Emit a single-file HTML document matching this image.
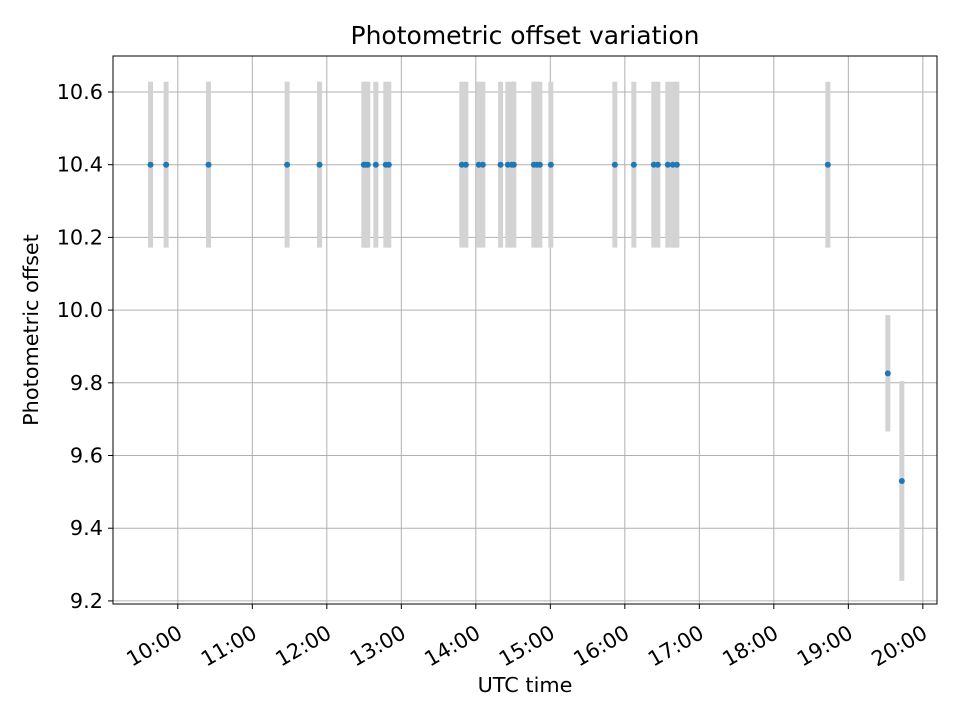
<!DOCTYPE html>
<html><head><meta charset="utf-8"><style>
body{margin:0;background:#fff}
svg text{font-family:"DejaVu Sans","Liberation Sans",sans-serif;fill:#000}
</style></head><body>
<svg id="chart" width="960" height="720" viewBox="0 0 960 720" xmlns="http://www.w3.org/2000/svg">
<rect width="960" height="720" fill="#fff"/>
<text x="525" y="44" style="font-size:25px" text-anchor="middle">Photometric offset variation</text>
<g id="grid"></g>
<g id="bars"></g>
<g id="points"></g>
<g id="axes"></g>
<text x="525" y="692" style="font-size:20.8px" text-anchor="middle">UTC time</text>
<text transform="translate(38,330) rotate(-90)" style="font-size:20.8px" text-anchor="middle">Photometric offset</text>
</svg>
<script>
const times = [9.634,9.843,10.412,11.467,11.902,12.497,12.523,12.550,12.658,12.792,12.832,13.812,13.866,14.040,14.094,14.332,14.430,14.483,14.510,14.779,14.819,14.859,15.007,15.866,16.121,16.389,16.443,16.577,16.644,16.698,18.725,19.530,19.718];
const offsets = [10.4,10.4,10.4,10.4,10.4,10.4,10.4,10.4,10.4,10.4,10.4,10.4,10.4,10.4,10.4,10.4,10.4,10.4,10.4,10.4,10.4,10.4,10.4,10.4,10.4,10.4,10.4,10.4,10.4,10.4,10.4,9.826,9.53];
const errors = [0.228,0.228,0.228,0.228,0.228,0.228,0.228,0.228,0.228,0.228,0.228,0.228,0.228,0.228,0.228,0.228,0.228,0.228,0.228,0.228,0.228,0.228,0.228,0.228,0.228,0.228,0.228,0.228,0.228,0.228,0.228,0.16,0.275];
const xTicks = [10,11,12,13,14,15,16,17,18,19,20];
const xTickLabels = ["10:00","11:00","12:00","13:00","14:00","15:00","16:00","17:00","18:00","19:00","20:00"];
const yTicks = [9.2,9.4,9.6,9.8,10.0,10.2,10.4,10.6];
const yTickLabels = ["9.2","9.4","9.6","9.8","10.0","10.2","10.4","10.6"];

const L=113,R=937,T=56,B=604;
const xMin=9.13,xMax=20.19,yMin=9.1915,yMax=10.699;
const sx=v=>L+(v-xMin)/(xMax-xMin)*(R-L);
const sy=v=>B-(v-yMin)/(yMax-yMin)*(B-T);
const NS="http://www.w3.org/2000/svg";
function mk(tag,attrs,parent){const e=document.createElementNS(NS,tag);for(const k in attrs)e.setAttribute(k,attrs[k]);parent.appendChild(e);return e;}
const grid=document.getElementById('grid'),bars=document.getElementById('bars'),pts=document.getElementById('points'),axes=document.getElementById('axes');

xTicks.forEach((t,i)=>{
  const x=sx(t);
  const g=mk('line',{x1:x,x2:x,y1:T,y2:B,stroke:'#b0b0b0','stroke-width':1},grid);
  
  
  const tk=mk('line',{x1:x,x2:x,y1:B,y2:B+5,stroke:'#000','stroke-width':1},axes);
  
  
  const tx=mk('text',{x:0,y:0,style:'font-size:20.8px','text-anchor':'end',transform:`translate(${x+6},${B+33}) rotate(-30)`},axes);
  tx.textContent=xTickLabels[i];
  
  
});
yTicks.forEach((t,i)=>{
  const y=sy(t);
  const g=mk('line',{x1:L,x2:R,y1:y,y2:y,stroke:'#b0b0b0','stroke-width':1},grid);
  
  
  const tk=mk('line',{x1:L-5,x2:L,y1:y,y2:y,stroke:'#000','stroke-width':1},axes);
  
  
  const tx=mk('text',{x:L-10,y:y+7,style:'font-size:20.8px','text-anchor':'end'},axes);
  tx.textContent=yTickLabels[i];
  
  
});
times.forEach((t,i)=>{
  const x=sx(t);
  const b=mk('line',{x1:x,x2:x,y1:sy(offsets[i]+errors[i]),y2:sy(offsets[i]-errors[i]),stroke:'#d3d3d3','stroke-width':5},bars);
  
  
});
times.forEach((t,i)=>{
  const c=mk('circle',{cx:sx(t),cy:sy(offsets[i]),r:3,fill:'#1f77b4'},pts);
  
  
});
const frame=mk('rect',{x:L,y:T,width:R-L,height:B-T,fill:'none',stroke:'#000','stroke-width':1},axes);


</script>
</body></html>
